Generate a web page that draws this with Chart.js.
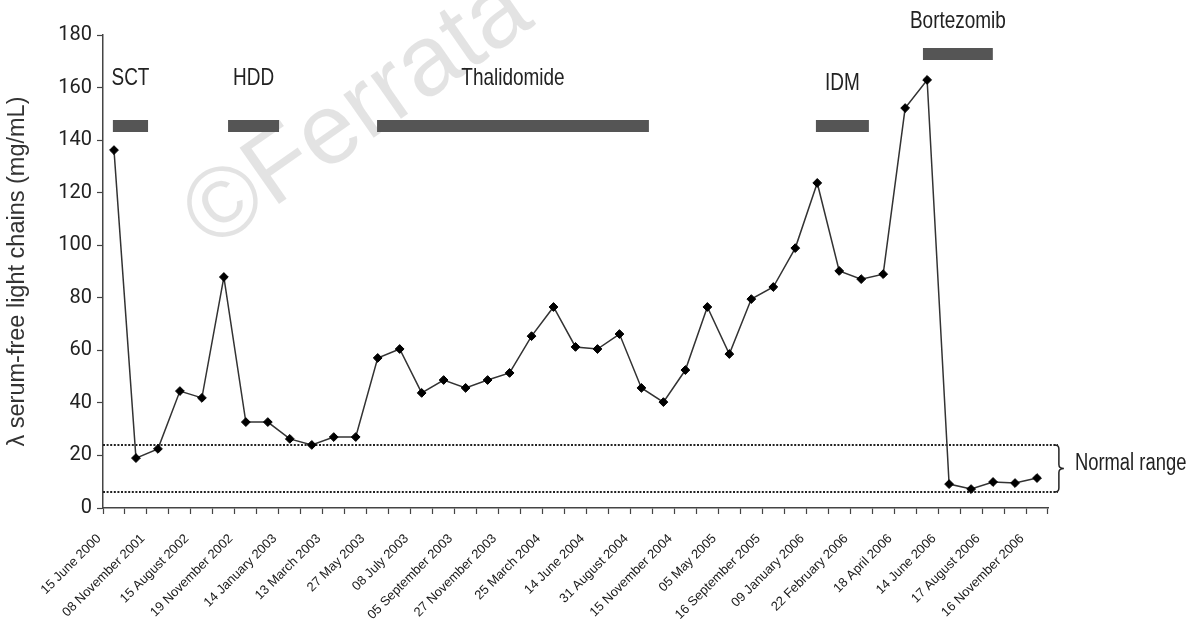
<!DOCTYPE html>
<html>
<head>
<meta charset="utf-8">
<script src="https://cdn.jsdelivr.net/npm/chart.js@4.4.1/dist/chart.umd.min.js"></script>
<style>
  html, body { margin: 0; padding: 0; background: #fff; }
  #wrap { width: 1201px; height: 619px; position: relative; }
</style>
</head>
<body>
<div id="wrap"><canvas id="c"></canvas></div>
<script>
// Sample dates written under the axis (every second measurement carries a date)
const tickLabels = [
  '15 June 2000', '08 November 2001', '15 August 2002', '19 November 2002',
  '14 January 2003', '13 March 2003', '27 May 2003', '08 July 2003',
  '05 September 2003', '27 November 2003', '25 March 2004', '14 June 2004',
  '31 August 2004', '15 November 2004', '05 May 2005', '16 September 2005',
  '09 January 2006', '22 February 2006', '18 April 2006', '14 June 2006',
  '17 August 2006', '16 November 2006'
];

// λ serum-free light chain measurements (mg/mL), one per sample
const flcValues = [
  136.2, 19.0, 22.5, 44.5, 41.9, 87.9, 32.7, 32.7, 26.3, 24.0,
  27.0, 27.0, 57.1, 60.5, 43.8, 48.7, 45.7, 48.7, 51.4, 65.4,
  76.5, 61.3, 60.5, 66.2, 45.7, 40.3, 52.5, 76.5, 58.6, 79.5,
  84.1, 98.9, 123.7, 90.2, 87.1, 89.0, 152.2, 162.9, 9.1, 7.2,
  9.9, 9.5, 11.4
];

// Treatment periods, expressed in sample-index units
const therapyNames = ['SCT', 'HDD', 'Thalidomide', 'IDM', 'Bortezomib'];
const therapyStart = [-0.05, 5.19, 11.97, 31.94, 36.81];
const therapyEnd = [1.55, 7.51, 24.34, 34.35, 39.99];
const therapyLevel = [145.4, 145.4, 145.4, 145.4, 172.8];
const therapyLabelLevel = [163.4, 163.4, 163.4, 161.7, 185.3];

// Normal range limits (mg/mL) and its label
const normalRange = [6.1, 24.0];
const normalRangeLabel = 'Normal range';
const normalRangeSpan = [-0.5, 42.95];

// Value axis ticks
const yTicks = [0, 20, 40, 60, 80, 100, 120, 140, 160, 180];

const categories = flcValues.map((_, i) => (i % 2 === 0 ? tickLabels[i / 2] : ''));

const REGULAR = '"Liberation Sans", Arial, sans-serif';
const TICKFONT = 'Roboto, "Liberation Sans", sans-serif';

// Condensed-looking text: regular sans squeezed horizontally
function drawNarrow(ctx, text, x, y, align, size, squeeze) {
  ctx.save();
  ctx.translate(x, y);
  ctx.scale(squeeze, 1);
  ctx.font = size + 'px ' + REGULAR;
  ctx.textAlign = align;
  ctx.textBaseline = 'middle';
  ctx.fillText(text, 0, 0);
  ctx.restore();
}

const datasets = [
  {
    label: 'λ FLC',
    data: flcValues,
    xAxisID: 'x',
    yAxisID: 'y',
    borderColor: '#333',
    borderWidth: 1.5,
    pointStyle: 'rectRot',
    pointRadius: 4.4,
    pointBackgroundColor: '#000',
    pointBorderColor: '#000',
    pointBorderWidth: 1,
    tension: 0,
    order: 0
  }
];

normalRange.forEach((v) => {
  datasets.push({
    label: 'normal',
    data: [{ x: normalRangeSpan[0], y: v }, { x: normalRangeSpan[1], y: v }],
    xAxisID: 'x2',
    yAxisID: 'y',
    borderColor: '#222',
    borderWidth: 2,
    borderDash: [2, 1.6],
    pointRadius: 0,
    clip: false,
    order: 2
  });
});

therapyNames.forEach((name, i) => {
  datasets.push({
    label: name,
    data: [{ x: therapyStart[i], y: therapyLevel[i] }, { x: therapyEnd[i], y: therapyLevel[i] }],
    xAxisID: 'x2',
    yAxisID: 'y',
    borderColor: '#555',
    borderWidth: 12,
    borderCapStyle: 'butt',
    pointRadius: 0,
    clip: false,
    order: 1
  });
});

// Treatment names, the brace with its label, and the faint watermark
const overlay = {
  id: 'overlay',
  beforeDatasetsDraw(chart) {
    const { ctx } = chart;
    ctx.save();
    ctx.translate(212, 251);
    ctx.rotate(-35 * Math.PI / 180);
    ctx.font = '100px ' + REGULAR;
    ctx.fillStyle = 'rgba(0,0,0,0.11)';
    ctx.textAlign = 'left';
    ctx.textBaseline = 'alphabetic';
    ctx.fillText('©Ferrata', 0, 0);
    ctx.restore();
  },
  afterDatasetsDraw(chart) {
    const { ctx } = chart;
    const x2 = chart.scales.x2;
    const y = chart.scales.y;
    ctx.save();
    ctx.fillStyle = '#222';
    therapyNames.forEach((name, i) => {
      const cx = x2.getPixelForValue((therapyStart[i] + therapyEnd[i]) / 2);
      drawNarrow(ctx, name, cx, y.getPixelForValue(therapyLabelLevel[i]), 'center', 24, 0.79);
    });

    // brace closing the normal range on the right
    const bx = x2.getPixelForValue(normalRangeSpan[1]) + 1;
    const yTop = y.getPixelForValue(normalRange[1]);
    const yBot = y.getPixelForValue(normalRange[0]);
    const yMid = (yTop + yBot) / 2;
    ctx.strokeStyle = '#222';
    ctx.lineWidth = 1.5;
    ctx.beginPath();
    ctx.moveTo(bx - 4, yTop);
    ctx.quadraticCurveTo(bx, yTop, bx, yTop + 4);
    ctx.lineTo(bx, yMid - 4);
    ctx.quadraticCurveTo(bx, yMid, bx + 5, yMid);
    ctx.quadraticCurveTo(bx, yMid, bx, yMid + 4);
    ctx.lineTo(bx, yBot - 4);
    ctx.quadraticCurveTo(bx, yBot, bx - 4, yBot);
    ctx.stroke();

    drawNarrow(ctx, normalRangeLabel, bx + 16, yMid - 5, 'left', 23, 0.8);
    ctx.restore();
  }
};

new Chart(document.getElementById('c'), {
  type: 'line',
  data: { labels: categories, datasets },
  plugins: [overlay],
  options: {
    responsive: true,
    maintainAspectRatio: false,
    animation: false,
    layout: { padding: { left: 0, top: 35, right: 153, bottom: 0 } },
    plugins: {
      legend: { display: false },
      tooltip: { enabled: false },
      title: { display: false }
    },
    scales: {
      x: {
        type: 'category',
        offset: true,
        grid: {
          offset: true,
          drawOnChartArea: false,
          drawTicks: true,
          tickLength: 6,
          tickColor: '#444',
          tickWidth: 1.2
        },
        border: { display: true, color: '#444', width: 1.5 },
        ticks: {
          autoSkip: false,
          maxRotation: 45,
          minRotation: 45,
          padding: 17,
          labelOffset: -15,
          color: '#1a1a1a',
          font: { family: REGULAR, size: 13 }
        },
        afterFit(scale) { scale.height = 111; }
      },
      x2: {
        type: 'linear',
        display: false,
        min: -0.5,
        max: flcValues.length - 0.5
      },
      y: {
        type: 'linear',
        min: yTicks[0],
        max: yTicks[yTicks.length - 1],
        afterBuildTicks(scale) { scale.ticks = yTicks.map((v) => ({ value: v })); },
        grid: {
          drawOnChartArea: false,
          drawTicks: true,
          tickLength: 6,
          tickColor: '#444',
          tickWidth: 1.2
        },
        border: { display: true, color: '#444', width: 1.5 },
        ticks: {
          padding: 5,
          color: '#222',
          font: { family: TICKFONT, size: 20 }
        },
        title: {
          display: true,
          text: 'λ serum-free light chains (mg/mL)',
          color: '#333',
          font: { family: REGULAR, size: 23.5 },
          padding: { top: 3, bottom: 0 }
        },
        afterFit(scale) { scale.width = 103; }
      }
    }
  }
});
</script>
</body>
</html>
